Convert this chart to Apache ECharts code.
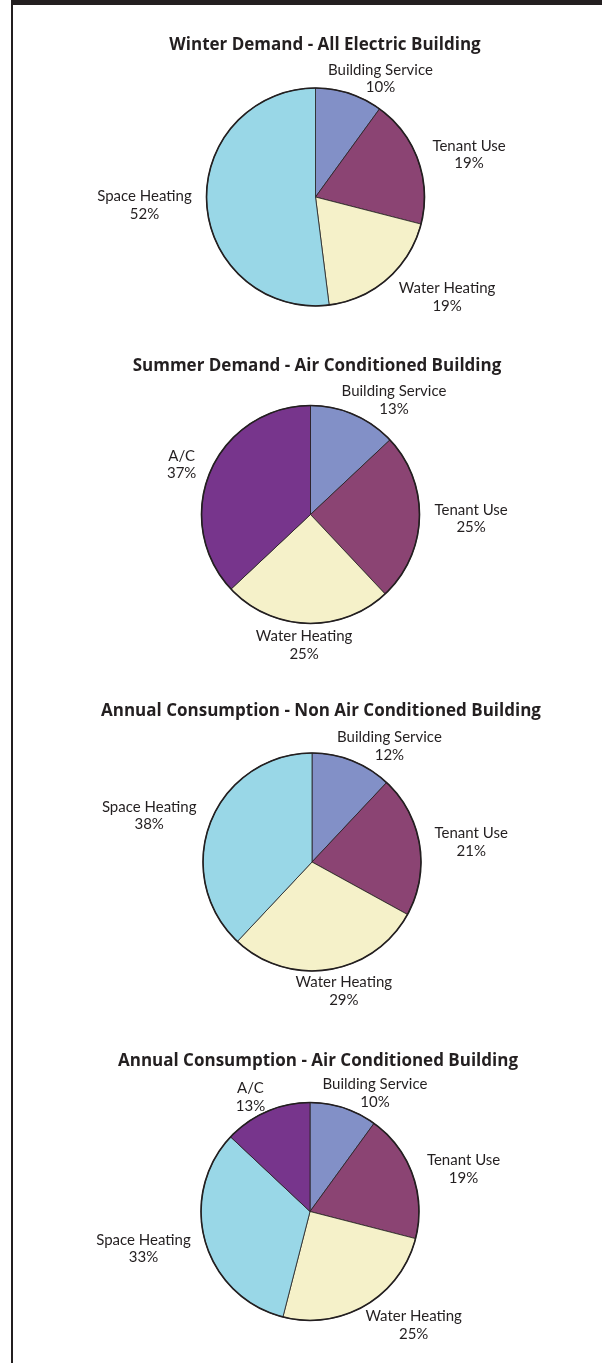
<!DOCTYPE html>
<html><head><meta charset="utf-8">
<script src="https://cdn.jsdelivr.net/npm/echarts@6/dist/echarts.min.js"></script>
<style>html,body{margin:0;padding:0;background:#fff}#c{width:602px;height:1363px}</style>
</head><body><div id="c"></div>
<script>
// ---- data ----
const chartTitles = [
  'Winter Demand - All Electric Building',
  'Summer Demand - Air Conditioned Building',
  'Annual Consumption - Non Air Conditioned Building',
  'Annual Consumption - Air Conditioned Building'
];
const winterCategories = ['Building Service', 'Tenant Use', 'Water Heating', 'Space Heating'];
const winterValues = [10, 19, 19, 52];
const summerCategories = ['Building Service', 'Tenant Use', 'Water Heating', 'A/C'];
const summerValues = [13, 25, 25, 37];
const annualNonACCategories = ['Building Service', 'Tenant Use', 'Water Heating', 'Space Heating'];
const annualNonACValues = [12, 21, 29, 38];
const annualACCategories = ['Building Service', 'Tenant Use', 'Water Heating', 'Space Heating', 'A/C'];
const annualACValues = [10, 19, 25, 33, 13];

// ---- styles / layout ----
const categoryColors = {
  'Building Service': '#8290c7',
  'Tenant Use': '#8b4473',
  'Water Heating': '#f5f1c9',
  'Space Heating': '#99d7e7',
  'A/C': '#77358c'
};
const INK = '#231f20';
const LABEL_FONT = 'Lato, "Open Sans", sans-serif';
const TITLE_FONT = '"Open Sans", Lato, sans-serif';
const panels = [
  { cats: winterCategories, vals: winterValues, center: [315.5, 197], titleX: 325, titleY: 45 },
  { cats: summerCategories, vals: summerValues, center: [310.5, 514.5], titleX: 317, titleY: 366.5 },
  { cats: annualNonACCategories, vals: annualNonACValues, center: [312, 862], titleX: 321, titleY: 711.5 },
  { cats: annualACCategories, vals: annualACValues, center: [310, 1211.5], titleX: 318, titleY: 1061.5 }
];
const RADIUS = 109;

const chart = echarts.init(document.getElementById('c'), null, { renderer: 'canvas' });

function clamp(v) { return Math.max(-1, Math.min(1, v)); }

function sliceGeometry(params) {
  try {
    const s = chart.getModel().getSeriesByIndex(params.seriesIndex);
    const l = s.getData().getItemLayout(params.dataIndex);
    if (l && l.startAngle != null) {
      const mid = (l.startAngle + l.endAngle) / 2;
      return { cx: l.cx, cy: l.cy, r: l.r, ux: Math.cos(mid), uy: Math.sin(mid) };
    }
  } catch (e) {}
  const p = panels[params.seriesIndex / 2 | 0];
  const total = p.vals.reduce((a, b) => a + b, 0);
  let acc = 0;
  for (let i = 0; i < params.dataIndex; i++) acc += p.vals[i];
  const mid = -Math.PI / 2 + (acc + p.vals[params.dataIndex] / 2) / total * Math.PI * 2;
  return { cx: p.center[0], cy: p.center[1], r: RADIUS, ux: Math.cos(mid), uy: Math.sin(mid) };
}

function labelLayout(params) {
  const g = sliceGeometry(params);
  const a = params.labelRect.width / 2;
  const b = params.labelRect.height / 2;
  const R = g.r + 11;
  const fx = clamp(1.6 * g.ux);
  const fy = g.uy > 0 ? clamp(1.3 * g.uy) * 0.6 : clamp(1.3 * g.uy) * 0.25;
  return {
    x: g.cx + R * g.ux + (a + 4) * fx,
    y: g.cy + R * g.uy + b * fy,
    align: 'center',
    verticalAlign: 'middle'
  };
}

const series = [];
const titles = [];
panels.forEach((p, i) => {
  titles.push({
    text: chartTitles[i],
    left: p.titleX,
    top: p.titleY - 10,
    textAlign: 'center',
    padding: 0,
    textStyle: { fontFamily: TITLE_FONT, fontWeight: 'bold', fontSize: 17, color: INK, lineHeight: 20 }
  });
  series.push({
    type: 'pie',
    center: p.center,
    radius: RADIUS,
    startAngle: 90,
    clockwise: true,
    avoidLabelOverlap: false,
    animation: false,
    data: p.cats.map((c, k) => ({ name: c, value: p.vals[k], itemStyle: { color: categoryColors[c] } })),
    itemStyle: { borderColor: INK, borderWidth: 0.8 },
    label: {
      show: true,
      position: 'outside',
      formatter: '{b}\n{c}%',
      fontFamily: LABEL_FONT,
      fontSize: 15,
      lineHeight: 17.5,
      color: INK
    },
    labelLine: { show: false },
    labelLayout: labelLayout,
    emphasis: { disabled: true }
  });
  // outer outline of the pie
  series.push({
    type: 'pie',
    center: p.center,
    radius: RADIUS,
    silent: true,
    animation: false,
    data: [{ value: 1, name: '' }],
    itemStyle: { color: 'rgba(0,0,0,0)', borderColor: INK, borderWidth: 1.6 },
    label: { show: false },
    labelLine: { show: false },
    z: 3
  });
});

chart.setOption({
  backgroundColor: '#ffffff',
  animation: false,
  title: titles,
  series: series,
  graphic: [
    { type: 'rect', shape: { x: 11, y: 0, width: 591, height: 5 }, style: { fill: INK }, silent: true },
    { type: 'rect', shape: { x: 11, y: 0, width: 2, height: 1363 }, style: { fill: INK }, silent: true }
  ]
});
</script>
</body></html>
